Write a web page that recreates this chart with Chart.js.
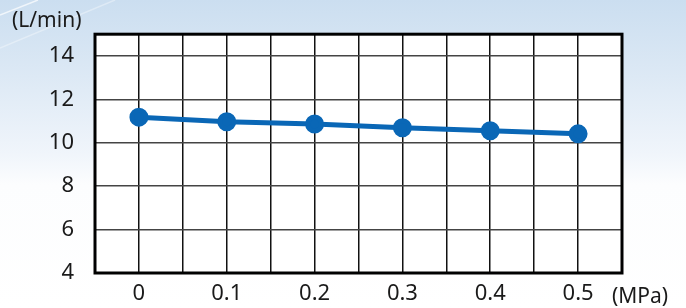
<!DOCTYPE html>
<html>
<head>
<meta charset="utf-8">
<script src="https://cdn.jsdelivr.net/npm/chart.js@4/dist/chart.umd.min.js"></script>
<style>
  html, body { margin: 0; padding: 0; }
  body {
    width: 686px; height: 308px; overflow: hidden;
    background: linear-gradient(to bottom, #cbdef0 0%, #dde9f5 25%, #f0f5fb 50%, #fcfdfe 60%, #ffffff 100%);
  }
  #wrap { position: relative; width: 686px; height: 308px; }
</style>
</head>
<body>
<div id="wrap"><canvas id="flowChart" width="686" height="308"></canvas></div>
<script>
const pressure = [0, 0.1, 0.2, 0.3, 0.4, 0.5];
const flow = [11.18, 10.97, 10.86, 10.69, 10.55, 10.41];
const xLabels = ["0", "0.1", "0.2", "0.3", "0.4", "0.5"];
const yLabels = ["4", "6", "8", "10", "12", "14"];

const FONT = "'Noto Sans', 'DejaVu Sans', sans-serif";

const frame = {
  id: "frame",
  beforeDraw(chart) {
    const { ctx, chartArea: a } = chart;
    ctx.save();
    // faint light streaks in the top-left corner
    ctx.strokeStyle = "rgba(255,255,255,0.7)";
    ctx.lineWidth = 1.5;
    ctx.beginPath();
    ctx.moveTo(0, 15); ctx.lineTo(38, 0);
    ctx.stroke();
    ctx.strokeStyle = "rgba(255,255,255,0.35)";
    ctx.beginPath();
    ctx.moveTo(0, 48); ctx.lineTo(115, 0);
    ctx.stroke();
    ctx.fillStyle = "#ffffff";
    ctx.fillRect(a.left, a.top, a.right - a.left, a.bottom - a.top);
    ctx.restore();
  },
  afterDraw(chart) {
    const { ctx, chartArea: a } = chart;
    ctx.save();
    ctx.strokeStyle = "#000";
    ctx.lineWidth = 3;
    ctx.strokeRect(a.left, a.top, a.right - a.left, a.bottom - a.top);
    ctx.fillStyle = "#1a1a1a";
    ctx.font = "21px " + FONT;
    ctx.textBaseline = "middle";
    ctx.textAlign = "left";
    ctx.fillText("(L/min)", 12, 21);
    ctx.fillText("(MPa)", 612, 297);
    ctx.restore();
  }
};

new Chart(document.getElementById("flowChart").getContext("2d"), {
  type: "line",
  data: {
    datasets: [
      {
        data: pressure.map((p, i) => ({ x: p, y: flow[i] })),
        borderColor: "#0a67b6",
        backgroundColor: "#0a67b6",
        borderWidth: 5,
        pointRadius: 7,
        pointHoverRadius: 7,
        tension: 0,
      },
    ],
  },
  options: {
    responsive: false,
    animation: false,
    events: [],
    layout: { padding: { top: 32, right: 64, left: 0, bottom: 0 } },
    plugins: { legend: { display: false }, tooltip: { enabled: false } },
    scales: {
      x: {
        type: "linear",
        min: -0.05,
        max: 0.55,
        afterFit(s) { s.height = 35; },
        afterBuildTicks(s) {
          const t = [];
          for (let i = -1; i <= 11; i++) t.push({ value: Math.round(i * 5) / 100 });
          s.ticks = t;
        },
        ticks: {
          padding: 8,
          color: "#1a1a1a",
          font: { size: 22, family: FONT },
          maxRotation: 0,
          autoSkip: false,
          callback(v) {
            const idx = pressure.findIndex(p => Math.abs(p - v) < 1e-6);
            return idx >= 0 ? xLabels[idx] : "";
          },
        },
        grid: { color: "#111", lineWidth: 1.5, drawTicks: false },
        border: { display: false },
      },
      y: {
        min: 4,
        max: 15,
        afterFit(s) { s.width = 95; },
        afterBuildTicks(s) {
          const t = [];
          for (let v = 4; v <= 15; v += 2) t.push({ value: v });
          t.push({ value: 15 });
          s.ticks = t;
        },
        ticks: {
          padding: 21,
          color: "#1a1a1a",
          font: { size: 22, family: FONT },
          callback(v) {
            const idx = yLabels.indexOf(String(v));
            return idx >= 0 ? yLabels[idx] : "";
          },
        },
        grid: { color: "#444", lineWidth: 1.5, drawTicks: false },
        border: { display: false },
      },
    },
  },
  plugins: [frame],
});
</script>
</body>
</html>
